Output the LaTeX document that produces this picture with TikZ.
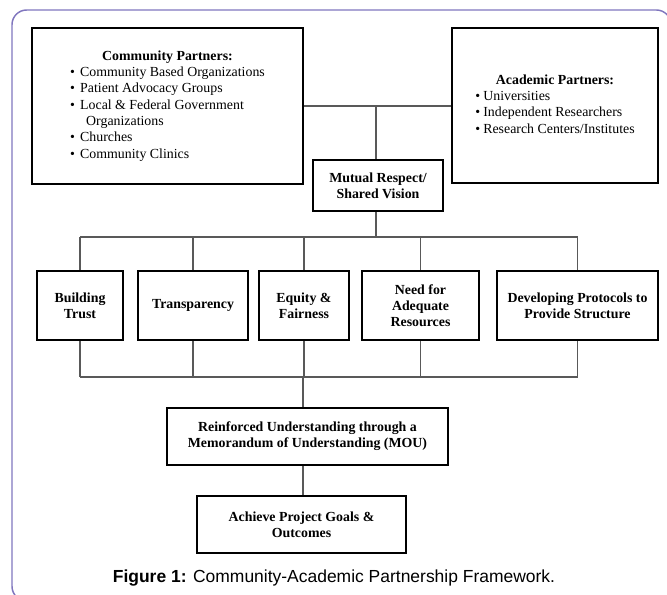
\documentclass[tikz,border=0pt]{standalone}
\usepackage{fontspec}
\setmainfont{Liberation Serif}
\newfontfamily\captionfont{Liberation Sans}
\usetikzlibrary{positioning}
\definecolor{framecol}{RGB}{128,118,190}

\begin{document}
\begin{tikzpicture}[x=0.75pt, y=-0.75pt]
    \tikzset{box/.style={draw, line width=2.2pt, inner sep=2pt, align=center,
        font=\fontsize{10.4}{12.2}\selectfont\bfseries},
        list/.style={box, font=\fontsize{10.4}{12.2}\selectfont},
        link/.style={draw=black!65, line width=0.8pt}}
    \useasboundingbox (0,0) rectangle (667,595);
    \begin{scope}
        \clip (0,0) rectangle (667,595);
        \draw[framecol, line width=1.1pt, rounded corners=11pt] (12,10) rectangle (671,601);
    \end{scope}

    \node[list, minimum width=203.25pt, minimum height=117pt] (community) at (167.5,106)
        {\begin{tabular}{@{}l@{}}
            \multicolumn{1}{@{}c@{}}{\textbf{Community Partners:}}\\
            \makebox[7.5pt][l]{\textbullet}Community Based Organizations\\
            \makebox[7.5pt][l]{\textbullet}Patient Advocacy Groups\\
            \makebox[7.5pt][l]{\textbullet}Local \& Federal Government\\
            \hspace*{12pt}Organizations\\
            \makebox[7.5pt][l]{\textbullet}Churches\\
            \makebox[7.5pt][l]{\textbullet}Community Clinics
        \end{tabular}};
    \node[list, minimum width=154.5pt, minimum height=116.25pt] (academic) at (555,105.5)
        {\begin{tabular}{@{}l@{}}
            \multicolumn{1}{@{}c@{}}{\textbf{Academic Partners:}}\\
            \makebox[6pt][l]{\textbullet}Universities\\
            \makebox[6pt][l]{\textbullet}Independent Researchers\\
            \makebox[6pt][l]{\textbullet}Research Centers/Institutes
        \end{tabular}};
    \node[box, minimum width=97.5pt, minimum height=38.25pt] (mutual) at (378,185.5)
        {Mutual Respect/\\Shared Vision};

    \node[box, minimum width=64.5pt, minimum height=51.75pt] (trust) at (80,305.5)
        {Building\\Trust};
    \node[box, minimum width=82.5pt, minimum height=51.75pt] (transparency) at (193,305.5)
        {Transparency};
    \node[box, minimum width=67.5pt, minimum height=51.75pt] (equity) at (304,305.5)
        {Equity \&\\Fairness};
    \node[box, minimum width=87.75pt, minimum height=51.75pt] (resources) at (420.5,305.5)
        {Need for\\Adequate\\Resources};
    \node[box, minimum width=120.75pt, minimum height=51.75pt] (protocols) at (577.5,305.5)
        {Developing Protocols to\\Provide Structure};

    \node[box, minimum width=210.75pt, minimum height=42.75pt] (mou) at (307.5,436.5)
        {Reinforced Understanding through a\\Memorandum of Understanding (MOU)};
    \node[box, minimum width=156.75pt, minimum height=42.75pt] (goals) at (301.5,524.5)
        {Achieve Project Goals \&\\Outcomes};

    \node[font=\captionfont\fontsize{13.1}{15}\selectfont] (caption) at (334,578)
        {\textbf{Figure 1:} Community-Academic Partnership Framework.};

    \coordinate (topbus) at (376,237);
    \coordinate (lowbus) at (303,377);

    \draw[link] (community.east) -- (community.east -| academic.west);
    \draw[link] (mutual.north -| topbus) -- (topbus |- community.east);
    \draw[link] (mutual.south -| topbus) -- (topbus);
    \draw[link] (trust.north |- topbus) -- (protocols.north |- topbus);
    \draw[link] (trust.south |- lowbus) -- (protocols.south |- lowbus);
    \foreach \n in {trust, transparency, equity, resources, protocols} {
        \draw[link] (\n.north) -- (\n.north |- topbus);
        \draw[link] (\n.south) -- (\n.south |- lowbus);
    }
    \draw[link] (lowbus) -- (lowbus |- mou.north);
    \draw[link] (lowbus |- mou.south) -- (lowbus |- goals.north);
\end{tikzpicture}
\end{document}
